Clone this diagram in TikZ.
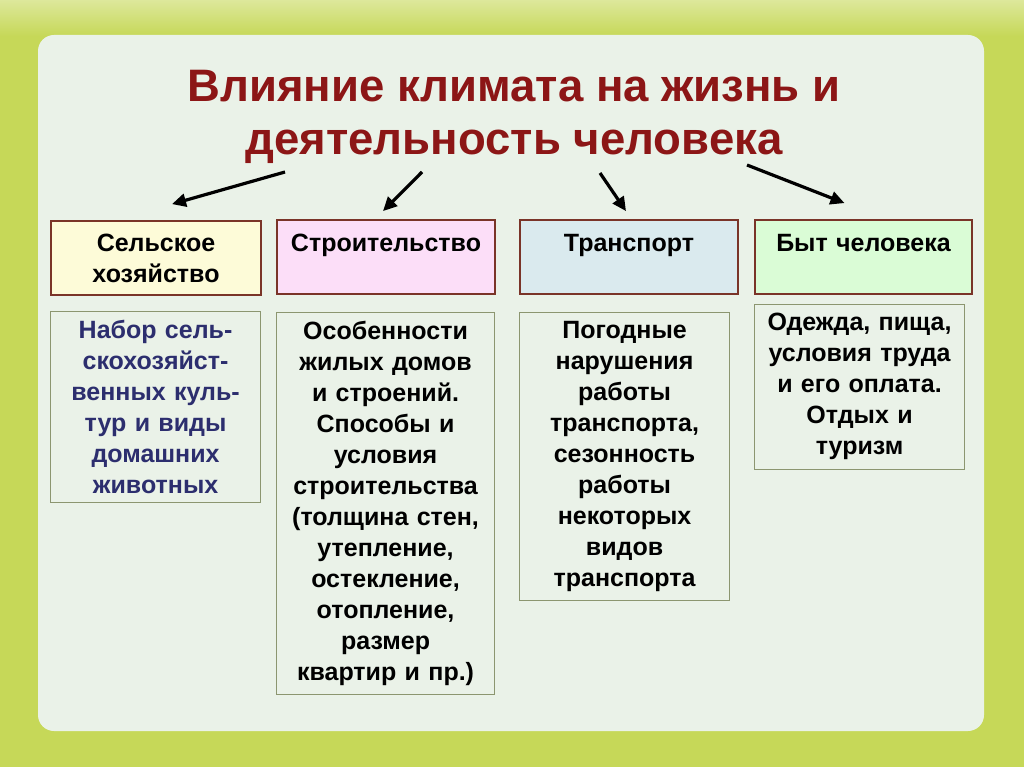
\documentclass[tikz,border=0pt]{standalone}
\usepackage{fontspec}
\setmainfont{Liberation Sans}
\usepackage{xcolor}
\usetikzlibrary{arrows.meta, positioning, calc}

\definecolor{frame}{RGB}{198,216,88}
\definecolor{panel}{RGB}{234,242,232}
\definecolor{titlered}{RGB}{140,22,22}
\definecolor{hdrline}{RGB}{122,52,40}
\definecolor{bodyline}{RGB}{140,150,112}
\definecolor{navy}{RGB}{44,46,110}
\definecolor{hdryellow}{RGB}{253,251,216}
\definecolor{hdrpink}{RGB}{252,222,248}
\definecolor{hdrblue}{RGB}{218,234,238}
\definecolor{hdrgreen}{RGB}{218,252,214}

\begin{document}
\begin{tikzpicture}[x=1pt, y=-1pt,
  font=\bfseries\fontsize{25}{31}\selectfont,
  header/.style={rectangle, draw=hdrline, line width=1.8pt, minimum height=74pt, align=center, inner xsep=0pt, inner ysep=4pt},
  hdrone/.style={header, text depth=28pt},
  body/.style={rectangle, draw=bodyline, line width=0.9pt, fill=panel, align=center, inner xsep=4pt, inner ysep=9pt},
  arrow/.style={-{Triangle[length=14pt,width=13pt]}, line width=3.2pt, black}
]
  % background
  \useasboundingbox (0,0) rectangle (1024,767);
  \fill[frame] (0,0) rectangle (1024,767);
  \fill[top color=frame!60!white, bottom color=frame] (0,0) rectangle (1024,36);
  \fill[panel, rounded corners=16pt] (38,35) rectangle (984,731);

  % title
  \node[text=titlered, font=\bfseries\fontsize{45.5}{53}\selectfont, align=center] (title) at (514,117)
    {Влияние климата на жизнь и\\деятельность человека};

  % headers
  \node[header, fill=hdryellow, text width=210pt] (agri) at (156,258) {Сельское\\хозяйство};
  \node[hdrone, fill=hdrpink, text width=218pt] (build) at (386,257) {Строительство};
  \node[hdrone, fill=hdrblue, text width=218pt] (trans) at (629,257) {Транспорт};
  \node[hdrone, fill=hdrgreen, text width=217pt] (life) at (863.5,257) {Быт человека};

  % details
  \node[body, text width=202pt, text=navy, below=15pt of agri.south west, anchor=north west] (agridet)
    {Набор сель-\\скохозяйст-\\венных куль-\\тур и виды\\домашних\\животных};
  \node[body, text width=210pt, below=17pt of build.south west, anchor=north west] (builddet)
    {Особенности\\жилых домов\\и строений.\\Способы и\\условия\\строительства\\(толщина стен,\\утепление,\\остекление,\\отопление,\\размер\\квартир и пр.)};
  \node[body, text width=202pt, below=17pt of trans.south west, anchor=north west] (transdet)
    {Погодные\\нарушения\\работы\\транспорта,\\сезонность\\работы\\некоторых\\видов\\транспорта};
  \node[body, text width=202pt, below=9pt of life.south west, anchor=north west] (lifedet)
    {Одежда, пища,\\условия труда\\и его оплата.\\Отдых и\\туризм};

  % arrows
  \coordinate (s1) at (285,172);
  \coordinate (s2) at (422,172);
  \coordinate (s3) at (600,173);
  \coordinate (s4) at (747,165);
  \draw[arrow] (s1) -- ([xshift=16pt,yshift=16pt]agri.north);
  \draw[arrow] (s2) -- ([xshift=-3pt,yshift=8pt]build.north);
  \draw[arrow] (s3) -- ([xshift=-3pt,yshift=8pt]trans.north);
  \draw[arrow] (s4) -- ([xshift=-19pt,yshift=16pt]life.north);
\end{tikzpicture}
\end{document}
